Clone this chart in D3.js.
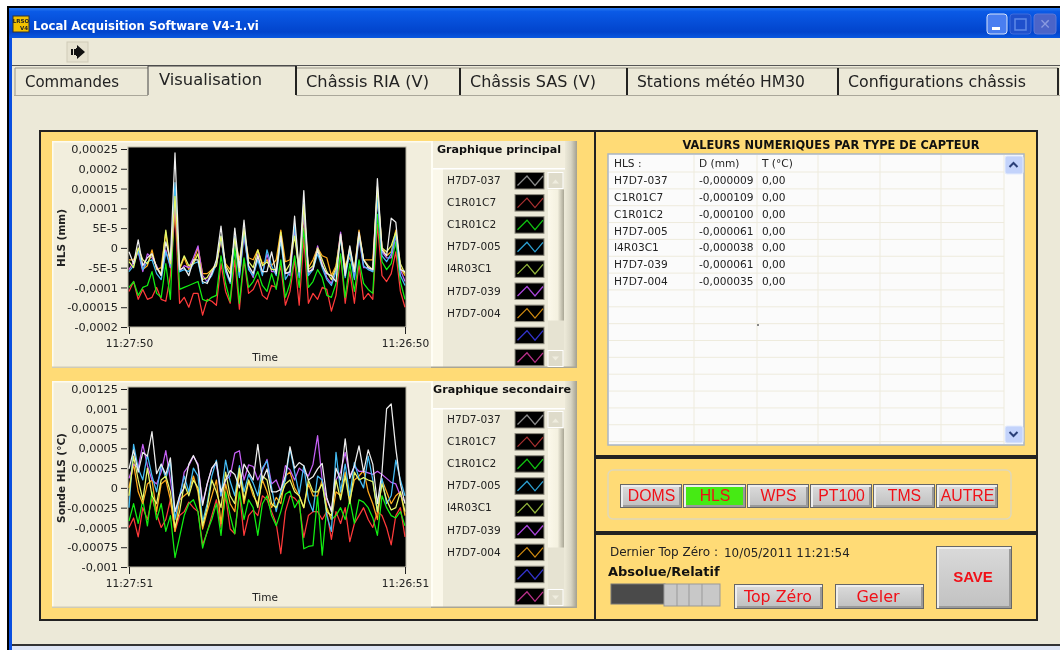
<!DOCTYPE html>
<html>
  <head>
    <meta charset="utf-8">
    <title>Local Acquisition Software V4-1.vi</title>
    <script src="https://d3js.org/d3.v7.min.js"></script>
    <style>
      html, body { margin: 0; padding: 0; background: #fff; overflow: hidden; }
      svg { display: block; font-family: "DejaVu Sans", sans-serif; filter: blur(0.35px); }
      .axis path { display: none; }
      .axis line { stroke: #222; }
      .axis text { font-family: "DejaVu Sans", sans-serif; fill: #222; }
      .axis.y text { font-size: 11.3px; }
      .axis.x text { font-size: 10.6px; }
    </style>
  </head>
  <body>
    <svg width="1060" height="650"></svg>
    <script>
      // texts
      const windowTitle = "Local Acquisition Software V4-1.vi";
      const tabLabels = ["Commandes", "Visualisation", "Châssis RIA (V)", "Châssis SAS (V)", "Stations météo HM30", "Configurations châssis"];
      const sensorNames = ["H7D7-037", "C1R01C7", "C1R01C2", "H7D7-005", "I4R03C1", "H7D7-039", "H7D7-004"];
      const tableHeader = ["HLS :", "D (mm)", "T (°C)"];
      const displacement = ["-0,000009", "-0,000109", "-0,000100", "-0,000061", "-0,000038", "-0,000061", "-0,000035"];
      const temperature = ["0,00", "0,00", "0,00", "0,00", "0,00", "0,00", "0,00"];
      const typeButtons = ["DOMS", "HLS", "WPS", "PT100", "TMS", "AUTRE"];
      const activeButton = "HLS";

      // axes
      const hlsTicks = [0.00025, 0.0002, 0.00015, 0.0001, 0.00005, 0, -0.00005, -0.0001, -0.00015, -0.0002];
      const hlsTickLabels = ["0,00025", "0,0002", "0,00015", "0,0001", "5E-5", "0", "-5E-5", "-0,0001", "-0,00015", "-0,0002"];
      const sondeTicks = [0.00125, 0.001, 0.00075, 0.0005, 0.00025, 0, -0.00025, -0.0005, -0.00075, -0.001];
      const sondeTickLabels = ["0,00125", "0,001", "0,00075", "0,0005", "0,00025", "0", "-0,00025", "-0,0005", "-0,00075", "-0,001"];

      // values are in millionths, one sample per second, newest on the left
      const unit = 1e-6;
      const hlsWhite = [
        -10,-40,20,-45,-25,-15,-50,-70,15,-30,
        240,-55,-50,-70,-30,-30,-85,-90,-65,-30,
        55,-50,-85,50,-50,70,-45,-65,-20,-60,
        -60,-10,-65,30,-65,-60,80,-60,145,-60,
        -55,-5,-45,-65,-70,-85,35,-70,5,-60,
        40,-30,-50,-55,175,-5,-20,75,65,-55,-60];
      const hlsRed = [
        -110,-85,-130,-105,-130,-125,-100,-130,-135,-70,
        95,-140,-125,-150,-115,-115,-170,-130,-135,-145,
        -40,-110,-140,-30,-155,-30,-115,-105,-80,-120,
        -130,-95,-100,-45,-145,-110,-30,-145,25,-140,
        -115,-130,-100,-105,-160,-120,-20,-140,-60,-140,
        -40,-130,-115,-130,60,-70,-85,-65,-10,-110,-150];
      const hlsGreen = [
        -100,-85,-120,-100,-95,-60,-115,-125,-40,-130,
        145,-105,-100,-95,-90,-85,-130,-135,-125,-120,
        -20,-90,-135,0,-140,-25,-100,-85,-60,-95,
        -110,-65,-105,-30,-125,-90,-20,-100,50,-100,
        -85,-55,-75,-120,-125,-90,-15,-125,-40,-110,
        -30,-90,-105,-115,85,-35,-55,-40,15,-85,-130];
      const hlsBlue = [
        -60,-45,-5,-55,-35,-30,-65,-80,-10,-45,
        165,-60,-55,-60,-40,-35,-90,-85,-70,-40,
        30,-60,-90,30,-75,40,-55,-70,-30,-70,
        -5,-45,-70,20,-80,-60,60,-75,115,-70,
        -55,-15,-50,-80,-95,-60,25,-75,-10,-80,
        30,-45,-55,-60,130,-20,-35,-15,35,-70,-95];
      const hlsYellow = [
        -35,-50,0,-30,-40,-15,-50,-65,45,-40,
        130,-50,-20,-45,-40,-15,-80,-75,-55,-45,
        30,-45,-65,25,-60,50,-35,-50,-5,-45,
        -35,-55,-55,40,-60,-40,30,-60,110,-55,
        -45,0,-30,-60,-80,-50,30,-55,0,-60,
        35,-30,-45,-55,155,0,-10,5,40,-40,-65];
      const hlsViolet = [
        -55,-35,-10,-60,-15,-25,-45,-70,-5,-50,
        120,-60,-45,-50,-25,5,-70,-85,-60,-45,
        25,-55,-85,30,-70,30,-50,-75,-15,-65,
        -15,-60,-60,30,-60,-70,50,-70,90,-65,
        -50,5,-40,-75,-90,-55,40,-65,-5,-75,
        25,-50,-50,-60,125,-10,-25,-25,30,-55,-85];
      const hlsOrange = [
        -30,-30,-5,-55,-45,-5,-55,-50,40,-50,
        100,-55,-25,-55,-35,0,-65,-65,-55,-40,
        20,-40,-55,20,-30,40,-25,-30,-5,-40,
        -30,-45,-30,45,-35,-30,50,-55,80,-50,
        -30,0,-20,-25,-70,-45,35,-45,-25,-55,
        45,-30,-30,-30,145,0,-20,-10,45,-50,-70];

      const sondeWhite = [
        240,480,200,450,400,710,180,300,170,380,
        -300,-100,0,300,410,280,-220,50,250,330,
        -50,100,220,170,0,300,200,100,550,100,
        240,-50,-50,-20,150,520,250,320,280,100,
        140,240,310,-120,-300,250,100,620,120,280,
        530,200,480,300,-200,200,1000,1060,500,50,-200];
      const sondeRed = [
        -500,-380,-620,-250,-400,-130,-330,-500,-400,-150,
        -550,-350,-300,-180,-250,-300,-720,-560,-350,-150,
        -500,-100,-520,-580,-60,-600,-350,-280,-350,-100,
        -150,-300,-450,-830,-300,-100,-130,-200,-630,-350,
        -300,-300,-400,-300,-650,-300,-450,-250,-680,-450,
        -350,-250,-400,-500,-300,-350,-500,-720,-350,-250,-620];
      const sondeGreen = [
        -420,-200,-450,-150,-480,-50,-400,-200,-550,-350,
        -880,-620,-350,-200,-150,-300,-760,-550,-400,-200,
        -600,-50,-350,-580,-50,-400,-150,-250,-600,-200,
        -100,-350,-480,-300,-80,-40,-250,-150,-770,-740,
        -730,-100,-850,-250,-400,-350,-250,-400,-150,-450,
        -150,-180,-250,-380,-600,-100,-250,-350,-380,-300,-480];
      const sondeBlue = [
        -250,550,250,100,420,150,-50,300,120,330,
        -400,-100,150,-50,250,150,-430,-200,150,350,
        -100,350,80,-100,280,-50,170,60,-100,250,
        340,0,-300,-50,100,500,200,-80,280,-150,
        -300,150,100,-350,-550,450,-50,300,-100,320,
        120,0,400,100,-300,120,-200,-100,350,100,-100];
      const sondeYellow = [
        -100,400,100,-150,250,-100,-200,100,150,-50,
        -500,-300,50,-100,100,0,-480,-250,100,-50,
        -250,200,-100,-200,250,-150,100,-50,-250,150,
        100,-200,-250,-100,50,100,-50,-100,-250,100,
        -50,-50,50,-300,-350,100,-150,150,-200,200,
        100,130,100,80,-300,50,-150,-280,-250,-50,-300];
      const sondeViolet = [
        120,300,250,550,280,100,50,200,470,100,
        -300,-150,200,280,400,300,-200,50,250,300,
        -100,100,150,440,470,100,290,270,100,220,
        360,50,100,-50,280,230,100,250,200,150,
        300,660,100,-150,-280,100,200,450,150,270,
        210,210,190,170,210,170,120,70,50,-100,-170];
      const sondeOrange = [
        0,300,-50,-200,50,100,-300,50,100,-150,
        -550,-150,-100,-50,150,-50,-520,-300,-100,100,
        -450,50,-200,-300,200,-200,80,-100,-200,100,
        -50,-250,-120,-200,150,200,0,-100,-250,50,
        -100,-100,100,-250,-400,-50,-100,200,-150,100,
        150,220,-50,-200,-400,100,-50,-200,-100,-50,-350];

      const plotColors = ["#ededed", "#ff3a3a", "#12ee12", "#45bdf5", "#e6f86a", "#c560f5", "#ffa91e"];
      const drawOrder = [1, 2, 6, 5, 3, 4, 0];
      const legendColors = ["#8a8a8a", "#a83030", "#10c010", "#2c9fd0", "#93b53c", "#a844d8", "#cf8a10", "#3333cc", "#b83088"];

      const svg = d3.select("svg");
      const defs = svg.append("defs");
      const bg = "#ece9d8";
      const panel = "#ffdb76";
      const cream = "#f2eedd";

      function box(g, x0, y0, x1, y1, fill, stroke, sw) {
        return g.append("rect")
          .attr("x", x0).attr("y", y0)
          .attr("width", x1 - x0).attr("height", y1 - y0)
          .attr("fill", fill)
          .attr("stroke", stroke || "none")
          .attr("stroke-width", sw || 0);
      }
      function label(g, x, y, txt, size, fill, weight, anchor) {
        return g.append("text")
          .attr("x", x).attr("y", y)
          .attr("font-size", size)
          .attr("fill", fill || "#222")
          .attr("font-weight", weight || "normal")
          .attr("text-anchor", anchor || "start")
          .attr("dominant-baseline", "middle")
          .text(txt);
      }
      function gradient(id, vertical, stops) {
        const grad = defs.append("linearGradient").attr("id", id)
          .attr("x1", 0).attr("y1", 0)
          .attr("x2", vertical ? 0 : 1).attr("y2", vertical ? 1 : 0);
        stops.forEach(s => grad.append("stop").attr("offset", s[0]).attr("stop-color", s[1]));
      }
      gradient("titleGrad", true, [[0, "#2b7bf0"], [0.12, "#0a5ae6"], [0.8, "#0244cc"], [1, "#0a58e0"]]);
      gradient("sideGrad", false, [[0, "#ece9d8"], [0.5, "#d8d5c4"], [1, "#a3a090"]]);
      gradient("thumbGrad", false, [[0, "#fbf8ea"], [0.6, "#f4f1e0"], [1, "#a9a695"]]);
      gradient("btnGrad", true, [[0, "#d9d9d9"], [1, "#c2c2c2"]]);

      // ---- window frame
      const win = svg.append("g");
      box(win, 0, 0, 1060, 650, "#fff");
      box(win, 7, 6, 1060, 650, "#000");
      box(win, 9, 8, 1060, 650, "#0a4fe0");
      box(win, 9, 8, 1060, 38, "url(#titleGrad)");
      box(win, 12, 38, 1060, 650, bg);
      box(win, 12, 644, 1060, 646, "#333");
      box(win, 12, 646, 1060, 650, "#dfe6f5");

      // title icon and buttons
      box(win, 13, 16, 29, 32, "#f2c200", "#333", 1);
      label(win, 21, 21, "LRSO", 5.5, "#222", "bold", "middle");
      label(win, 24, 28, "V4", 5.5, "#222", "bold", "middle");
      label(win, 33, 26, windowTitle, 11.7, "#fff", "bold");
      box(win, 987, 14, 1007, 34, "#4a7ef0", "#d8e4fa", 1).attr("rx", 3);
      box(win, 992, 27, 1000, 30, "#fff");
      box(win, 1010, 14, 1031, 34, "#1f50cc", "#3f6cdc", 1).attr("rx", 3);
      box(win, 1015, 19, 1026, 30, "none", "#5f88e6", 1.5);
      box(win, 1034, 14, 1056, 34, "#4b64c8", "#5d78d8", 1).attr("rx", 3);
      label(win, 1045, 25, "✕", 14, "#8a9be0", "normal", "middle");

      // toolbar
      box(win, 67, 42, 88, 62, "#e6e2d0", "#cfcbb8", 1);
      win.append("path").attr("d", "M71 49h2v6h-2zM74 49h2v6h-2zM77 48v-3l8 7-8 7v-3h-1v-8z").attr("fill", "#111");
      box(win, 12, 65, 1060, 66, "#555");

      // ---- tabs
      const tabEdges = [15, 148, 296, 460, 627, 838, 1058];
      const tabTextWidths = [94, 103, 123, 126, 168, 178];
      const tabs = svg.append("g");
      box(tabs, 14, 95, 1060, 96, "#aaa79a");
      tabLabels.forEach((t, i) => {
        const x0 = tabEdges[i], x1 = tabEdges[i + 1], on = i === 1;
        box(tabs, x0, on ? 66 : 68, x1, on ? 96 : 95, bg);
        tabs.append("path")
          .attr("d", `M${x0} 95V${on ? 66 : 68}H${x1}`)
          .attr("fill", "none").attr("stroke", on ? "#444" : "#9a978a").attr("stroke-width", 1);
      });
      // dark right edges go last so the next tab does not cover them
      tabLabels.forEach((t, i) => {
        const x1 = tabEdges[i + 1], on = i === 1;
        if (i > 0) {
          tabs.append("line").attr("x1", x1).attr("x2", x1).attr("y1", on ? 66 : 68).attr("y2", 95)
            .attr("stroke", "#111").attr("stroke-width", 1.8);
        }
        label(tabs, tabEdges[i] + (on ? 11 : 10), on ? 80 : 82, t, 15.4, "#222")
          .attr("textLength", tabTextWidths[i]).attr("lengthAdjust", "spacingAndGlyphs");
      });

      // ---- panels
      const panels = svg.append("g");
      box(panels, 40, 131, 595, 620, panel, "#222", 2);
      box(panels, 595, 131, 1037, 456, panel, "#222", 2);
      box(panels, 595, 458, 1037, 532, panel, "#222", 2);
      box(panels, 595, 534, 1037, 620, panel, "#222", 2);

      // ---- charts
      const plotLeft = 129, plotRight = 405;

      function drawChart(o) {
        const g = svg.append("g");
        box(g, 52, o.top, 431, o.top + 227, cream);
        box(g, 52, o.top, 431, o.top + 1.5, "#fdfbf0");
        box(g, 52, o.top, 53.5, o.top + 227, "#fdfbf0");
        box(g, 52, o.top + 225.5, 431, o.top + 227, "#cfcbb8");
        box(g, 128, o.plotTop - 2, 406, o.plotBottom, "#000", "#b9b5a4", 1);

        const x = d3.scaleTime().domain([o.start, o.end]).range([plotLeft, plotRight]);
        const y = d3.scaleLinear().domain([o.ticks[o.ticks.length - 1], o.ticks[0]]).range([o.plotBottom, o.plotTop]);
        const times = d3.range(o.series[0].length).map(i => d3.timeSecond.offset(o.start, -i));

        const line = d3.line()
          .x((d, i) => x(times[i]))
          .y(d => y(d * unit));

        const clipId = "clip" + o.top;
        defs.append("clipPath").attr("id", clipId)
          .append("rect").attr("x", 128).attr("y", o.plotTop - 2).attr("width", 278).attr("height", o.plotBottom - o.plotTop + 2);

        g.append("g").attr("clip-path", `url(#${clipId})`)
          .selectAll("path")
          .data(drawOrder)
          .join("path")
            .attr("d", i => line(o.series[i]))
            .attr("fill", "none")
            .attr("stroke", i => plotColors[i])
            .attr("stroke-width", 1.25)
            .attr("stroke-linejoin", "round");

        g.append("g").attr("class", "axis y")
          .attr("transform", `translate(127,0)`)
          .call(d3.axisLeft(y).tickValues(o.ticks).tickSize(6).tickPadding(3)
            .tickFormat((d, i) => o.tickLabels[i]));

        g.append("g").attr("class", "axis x")
          .attr("transform", `translate(0,${o.plotBottom})`)
          .call(d3.axisBottom(x).tickValues([o.start, o.end]).tickSize(7).tickPadding(5)
            .tickFormat(d3.timeFormat("%H:%M:%S")));

        label(g, 265, o.plotBottom + 31, "Time", 10.5, "#222", "normal", "middle");
        g.append("text")
          .attr("transform", `translate(62,${(o.plotTop + o.plotBottom) / 2}) rotate(-90)`)
          .attr("text-anchor", "middle")
          .attr("dominant-baseline", "middle")
          .attr("font-size", 10.5).attr("font-weight", "bold").attr("fill", "#222")
          .text(o.yTitle);
      }

      drawChart({
        top: 141, plotTop: 149, plotBottom: 327,
        start: new Date(2011, 4, 10, 11, 27, 50), end: new Date(2011, 4, 10, 11, 26, 50),
        ticks: hlsTicks, tickLabels: hlsTickLabels, yTitle: "HLS (mm)",
        series: [hlsWhite, hlsRed, hlsGreen, hlsBlue, hlsYellow, hlsViolet, hlsOrange]
      });
      drawChart({
        top: 381, plotTop: 389, plotBottom: 567,
        start: new Date(2011, 4, 10, 11, 27, 51), end: new Date(2011, 4, 10, 11, 26, 51),
        ticks: sondeTicks, tickLabels: sondeTickLabels, yTitle: "Sonde HLS (°C)",
        series: [sondeWhite, sondeRed, sondeGreen, sondeBlue, sondeYellow, sondeViolet, sondeOrange]
      });

      // ---- plot legends
      const glyph = d3.line()
        .x(d => d[0]).y(d => d[1]);
      const glyphPoints = [[2.5, 13], [12, 3.5], [20, 13], [28, 3.5]];

      function drawLegend(top, firstRow, titleText, titleX, thumbEnd) {
        const g = svg.append("g");
        box(g, 431, top, 577, top + 227, bg);
        box(g, 431, top, 443, top + 227, "#fbf8ea");
        box(g, 431, top, 577, top + 27, cream);
        box(g, 431, top + 27, 566, top + 28.5, "#fff");
        box(g, 431, top, 433, top + 227, "#fffef5");
        box(g, 565, top, 577, top + 227, "url(#sideGrad)");
        box(g, 431, top + 225.5, 577, top + 227, "#a9a695");
        label(g, titleX, top + 9, titleText, 11.15, "#111", "bold", "middle");

        // scrollbar
        box(g, 548, firstRow - 8, 564, firstRow + 186, "#e6e3d2");
        box(g, 548, firstRow - 8, 563, firstRow + 8, "#dedbca", "#fff", 1);
        box(g, 548, firstRow + 9, 564, firstRow + thumbEnd, "url(#thumbGrad)");
        box(g, 548, firstRow + 170, 563, firstRow + 186, "#dedbca", "#fff", 1);
        g.append("path").attr("d", `M552 ${firstRow + 3}l3.5 -4l3.5 4z`).attr("fill", "#efeddf");
        g.append("path").attr("d", `M552 ${firstRow + 176}l3.5 4l3.5 -4z`).attr("fill", "#efeddf");

        const rowStep = 22.1;
        legendColors.forEach((c, i) => {
          const rowY = firstRow + i * rowStep;
          box(g, 515, rowY - 8, 544, rowY + 8.5, "#000", "#8e8b7e", 1);
          g.append("path")
            .attr("d", glyph(glyphPoints))
            .attr("transform", `translate(515,${rowY - 8})`)
            .attr("fill", "none").attr("stroke", c).attr("stroke-width", 1.3);
          if (sensorNames[i]) label(g, 447, rowY + 0.5, sensorNames[i], 10.6, "#222");
        });
      }
      drawLegend(141, 180.5, "Graphique principal", 499, 140);
      drawLegend(381, 419.5, "Graphique secondaire", 502, 128);

      // ---- table
      const tableG = svg.append("g");
      label(tableG, 831, 145, "VALEURS NUMERIQUES PAR TYPE DE CAPTEUR", 11.4, "#111", "bold", "middle");
      box(tableG, 608, 154, 1024, 445, "#fbfbfb", "#a9b5c5", 1.5);
      const colEdges = [694, 757, 818, 880, 941, 1004];
      const rowCount = 17;
      const rowHeight = 16.85;
      const rows = d3.range(rowCount);
      tableG.selectAll(".rowline").data(rows).join("line")
        .attr("x1", 609).attr("x2", 1004)
        .attr("y1", d => 172 + d * rowHeight).attr("y2", d => 172 + d * rowHeight)
        .attr("stroke", "#eeebdd").attr("stroke-width", 1);
      tableG.selectAll(".colline").data(colEdges).join("line")
        .attr("x1", d => d).attr("x2", d => d).attr("y1", 155).attr("y2", 444)
        .attr("stroke", "#eeebdd").attr("stroke-width", 1);
      const textCols = [614, 699, 762];
      tableHeader.forEach((t, i) => label(tableG, textCols[i], 164, t, 10.6, "#222"));
      sensorNames.forEach((name, i) => {
        const rowY = 181 + i * rowHeight;
        label(tableG, textCols[0], rowY, name, 10.6, "#222");
        label(tableG, textCols[1], rowY, displacement[i], 10.6, "#222");
        label(tableG, textCols[2], rowY, temperature[i], 10.6, "#222");
      });
      box(tableG, 1005, 156, 1023, 174, "#c3d3fb", "#e4ecfd", 1).attr("rx", 2);
      box(tableG, 1005, 426, 1023, 443, "#c3d3fb", "#e4ecfd", 1).attr("rx", 2);
      tableG.append("path").attr("d", "M1009.5 167l4 -4l4 4").attr("fill", "none").attr("stroke", "#2a3f77").attr("stroke-width", 2);
      tableG.append("path").attr("d", "M1009.5 432l4 4l4 -4").attr("fill", "none").attr("stroke", "#2a3f77").attr("stroke-width", 2);
      tableG.append("path").attr("d", "M757 324h2v2h-2z").attr("fill", "#888");

      // ---- sensor type buttons
      function raised(g, x0, y0, x1, y1, fill) {
        box(g, x0, y0, x1, y1, "#666");
        box(g, x0 + 1, y0 + 1, x1 - 1, y1 - 1, "#eee");
        box(g, x0 + 3, y0 + 3, x1 - 1, y1 - 1, "#9a9a9a");
        box(g, x0 + 3, y0 + 3, x1 - 3, y1 - 3, fill);
      }
      const btnG = svg.append("g");
      box(btnG, 608, 470, 1011, 519, "none", "#e0d8b8", 1.5).attr("rx", 5);
      const btnEdges = [620, 683, 747, 810, 873, 936, 999];
      typeButtons.forEach((b, i) => {
        const on = b === activeButton;
        raised(btnG, btnEdges[i], 484, btnEdges[i + 1] - 1, 508, on ? "#46ea14" : "url(#btnGrad)");
        label(btnG, (btnEdges[i] + btnEdges[i + 1]) / 2, 497, b, 15.8, "#f01018", "normal", "middle")
          .attr("font-family", "'Liberation Sans', sans-serif");
      });

      // ---- bottom controls
      const ctl = svg.append("g");
      label(ctl, 610, 552, "Dernier Top Zéro :", 12, "#222");
      label(ctl, 724, 553, "10/05/2011 11:21:54", 11.9, "#222");
      label(ctl, 608, 572, "Absolue/Relatif", 13, "#111", "bold");
      box(ctl, 611, 584, 665, 604, "#4a4a4a", "#777", 1);
      box(ctl, 664, 584, 720, 606, "#c8c8c8", "#999", 1);
      [677, 689, 702].forEach(x => ctl.append("line").attr("x1", x).attr("x2", x).attr("y1", 584).attr("y2", 606).attr("stroke", "#999"));
      raised(ctl, 734, 584, 823, 609, "url(#btnGrad)");
      label(ctl, 778, 597, "Top Zéro", 15.8, "#f01018", "normal", "middle");
      raised(ctl, 835, 584, 924, 609, "url(#btnGrad)");
      label(ctl, 878, 597, "Geler", 16, "#f01018", "normal", "middle");
      raised(ctl, 936, 546, 1012, 609, "url(#btnGrad)");
      label(ctl, 973, 578, "SAVE", 15, "#f01018", "normal", "middle").attr("font-family", "'Liberation Sans', sans-serif").attr("font-weight", "bold");
    </script>
  </body>
</html>
